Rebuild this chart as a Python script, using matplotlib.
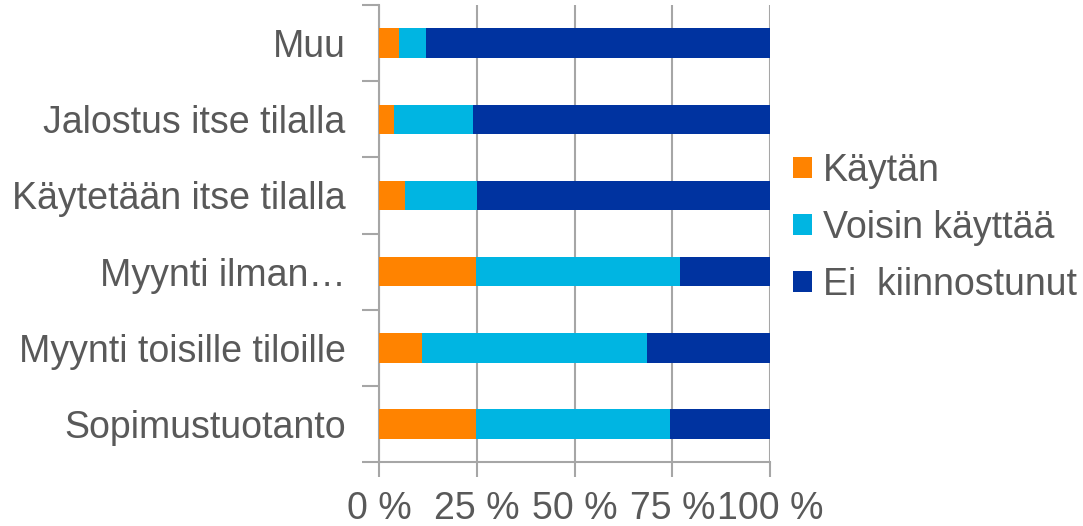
import matplotlib
matplotlib.use("Agg")
import matplotlib.pyplot as plt
import numpy as np

categories = ["Sopimustuotanto", "Myynti toisille tiloille", "Myynti ilman…",
              "Käytetään itse tilalla", "Jalostus itse tilalla", "Muu"]
kaytan = [24.7, 11.0, 24.7, 6.7, 3.8, 5.1]
voisin = [49.7, 57.5, 52.3, 18.3, 20.2, 7.0]
ei_kiinn = [25.6, 31.5, 23.0, 75.0, 76.0, 87.9]
series_names = ["Käytän", "Voisin käyttää", "Ei  kiinnostunut"]
colors = ["#FF8300", "#00B5E2", "#0033A0"]
xticks = [0, 25, 50, 75, 100]
xticklabels = ["0 %", "25 %", "50 %", "75 %", "100 %"]

plt.rcParams['font.family'] = ['Liberation Sans', 'DejaVu Sans']
txt = "#595959"
grid_c = "#A6A6A6"
fs = 27

fig = plt.figure(figsize=(10.83, 5.26), dpi=100)
ax = fig.add_axes([0.35, 0.122, 0.361, 0.868])

y = np.arange(len(categories))
left = np.zeros(len(categories))
for vals, name, c in zip([kaytan, voisin, ei_kiinn], series_names, colors):
    ax.barh(y, vals, left=left, height=0.39, color=c, label=name, zorder=3)
    left = left + np.array(vals)

ax.set_xlim(0, 100)
ax.set_ylim(-0.5, len(categories) - 0.5)
ax.set_xticks(xticks)
ax.set_xticklabels(xticklabels)
ax.set_yticks(y)
ax.set_yticklabels(categories)
ax.set_yticks(np.arange(len(categories) + 1) - 0.5, minor=True)

ax.grid(axis='x', color=grid_c, linewidth=1.5, zorder=0)
for s in ['top', 'right']:
    ax.spines[s].set_visible(False)
for s in ['left', 'bottom']:
    ax.spines[s].set_color(grid_c)
    ax.spines[s].set_linewidth(1.5)

ax.tick_params(axis='y', which='major', length=0, pad=24, labelsize=fs, labelcolor=txt)
ax.tick_params(axis='y', which='minor', length=12, width=1.5, color=grid_c)
ax.tick_params(axis='x', length=11, width=1.5, color=grid_c, pad=10,
               labelsize=fs, labelcolor=txt)

leg = ax.legend(loc='center left', bbox_to_anchor=(1.02, 0.513), frameon=False,
                fontsize=fs, handlelength=0.5, handleheight=0.5,
                handletextpad=0.3, labelspacing=0.56, borderaxespad=0)
for t in leg.get_texts():
    t.set_color(txt)

fig.savefig("out.png", dpi=100)
